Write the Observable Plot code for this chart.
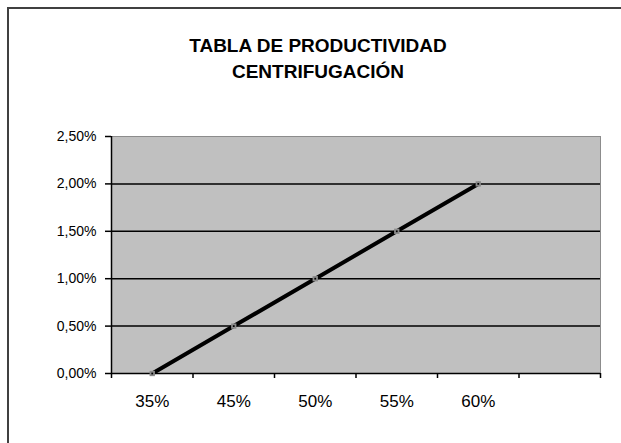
<!DOCTYPE html>
<html>
<head>
<meta charset="utf-8">
<script src="https://cdn.jsdelivr.net/npm/d3@7"></script>
<script src="https://cdn.jsdelivr.net/npm/@observablehq/plot@0.6"></script>
<style>
  html, body { margin: 0; padding: 0; background: #fff; }
  #wrap { position: relative; width: 621px; height: 443px; overflow: hidden; font-family: "Liberation Sans", Arial, sans-serif; }
  #frame { position: absolute; left: 7px; top: 7px; width: 700px; height: 500px; border-top: 2px solid #404040; border-left: 2px solid #404040; box-sizing: border-box; }
  #title { position: absolute; left: 0; width: 636px; top: 33px; text-align: center; font-weight: bold; font-size: 19px; line-height: 26px; color: #000; }
  #chart { position: absolute; left: 0; top: 0; }
  #chart svg text { font-family: "Liberation Sans", Arial, sans-serif; font-size: 14px; }
  #chart svg .xax text { font-size: 17px; }
</style>
</head>
<body>
<div id="wrap">
  <div id="frame"></div>
  <div id="chart"></div>
  <div id="title">TABLA DE PRODUCTIVIDAD<br>CENTRIFUGACIÓN</div>
</div>
<script>
const titleLines = ["TABLA DE PRODUCTIVIDAD", "CENTRIFUGACIÓN"];
const categories = ["35%", "45%", "50%", "55%", "60%"];
const values = [0.0, 0.5, 1.0, 1.5, 2.0]; // percent
const slotCount = 6; // Excel category axis has one extra empty slot
const yTicks = [0, 0.5, 1.0, 1.5, 2.0, 2.5];
const gridValues = [0.5, 1.0, 1.5, 2.0];

const data = categories.map((c, i) => ({cat: c, pos: i + 0.5, v: values[i]}));
const fmtY = v => v.toFixed(2).replace(".", ",") + "%";

const chart = Plot.plot({
  width: 621,
  height: 443,
  marginLeft: 111,
  marginRight: 21,
  marginTop: 136,
  marginBottom: 70,
  style: {fontFamily: '"Liberation Sans", Arial, sans-serif', color: "#000", background: "transparent"},
  x: {domain: [0, slotCount], axis: null, label: null},
  y: {domain: [0, 2.5], axis: null, label: null},
  marks: [
    Plot.frame({fill: "#C0C0C0", stroke: "#8c8c8c"}),
    Plot.ruleY(gridValues, {stroke: "#000", strokeWidth: 1.5}),
    Plot.ruleX([0], {stroke: "#000", strokeWidth: 1.5}),
    Plot.ruleY([0], {stroke: "#000", strokeWidth: 1.5}),
    Plot.axisY({ticks: yTicks, tickFormat: fmtY, tickSize: 6, tickPadding: 9, stroke: "#000", strokeWidth: 1.5, fill: "#000", label: null, fontSize: 14}),
    Plot.axisX({ticks: d3.range(slotCount + 1), tickFormat: () => "", tickSize: 5, stroke: "#000", strokeWidth: 1.5, label: null}),
    Plot.axisX({ticks: data.map(d => d.pos), tickFormat: p => categories[Math.round(p - 0.5)], tickSize: 0, tickPadding: 21, fill: "#000", label: null, className: "xax"}),
    Plot.line(data, {x: "pos", y: "v", stroke: "#000", strokeWidth: 4}),
    Plot.dot(data, {x: "pos", y: "v", symbol: "square", r: 3, fill: "#8a8a8a", stroke: "none"}),
    Plot.dot(data, {x: "pos", y: "v", symbol: "square", r: 1, fill: "#000", stroke: "none"})
  ]
});
document.getElementById("chart").appendChild(chart);
</script>
</body>
</html>
